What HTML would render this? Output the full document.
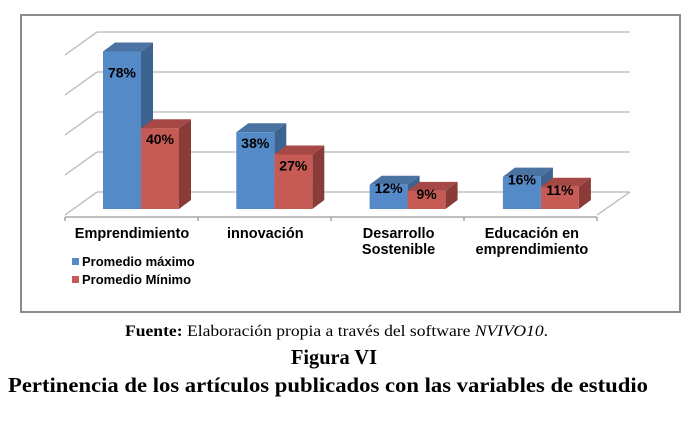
<!DOCTYPE html>
<html><head><meta charset="utf-8"><style>
body{margin:0;background:#fff;width:689px;height:422px;overflow:hidden}
svg{display:block}
.cat{font:bold 13px "Liberation Sans",sans-serif;fill:#000}
.lab{font:bold 14.5px "Liberation Sans",sans-serif;fill:#000}
.val{font:bold 14px "Liberation Sans",sans-serif;fill:#000}
</style></head><body>
<svg id="chart" width="689" height="422" viewBox="0 0 689 422">
<rect x="21" y="15" width="659" height="297" fill="#fff" stroke="#8c8c8c" stroke-width="2"/>
<g id="grid"></g>
<g id="bars"></g>
<g id="axis"></g>
<g>
<rect x="72" y="258" width="7" height="7" fill="#558ac8"/>
<text x="82" y="266" class="cat">Promedio máximo</text>
<rect x="72" y="276" width="7" height="7" fill="#c65b55"/>
<text x="82" y="284" class="cat">Promedio Mínimo</text>
</g>
<text x="125" y="336" textLength="423" lengthAdjust="spacingAndGlyphs" style="font:16px 'Liberation Serif',serif"><tspan font-weight="bold">Fuente:</tspan> Elaboración propia a través del software <tspan font-style="italic">NVIVO10</tspan>.</text>
<text x="291" y="364" textLength="86" lengthAdjust="spacingAndGlyphs" style="font:bold 21px 'Liberation Serif',serif">Figura VI</text>
<text x="8" y="392" textLength="640" lengthAdjust="spacingAndGlyphs" style="font:bold 21px 'Liberation Serif',serif">Pertinencia de los artículos publicados con las variables de estudio</text>
</svg>
<script>
const categories=[["Emprendimiento"],["innovación"],["Desarrollo","Sostenible"],["Educación en","emprendimiento"]];
const maxValues=[78,38,12,16];
const minValues=[40,27,9,11];
const NS="http://www.w3.org/2000/svg";
function mk(t,a,p){const e=document.createElementNS(NS,t);for(const k in a)e.setAttribute(k,a[k]);p.appendChild(e);return e;}
const base=209, pxPer=2.02, dx=12, dy=9, bw=38;
const y=v=>base-v*pxPer;
const xg=i=>103+i*133.3;
const grid=document.getElementById('grid');
for(let k=0;k<5;k++){const gy=192-k*40;
 const l=mk('line',{x1:97,y1:gy,x2:630,y2:gy,stroke:'#b8b8b8','stroke-width':1.3},grid);
 
 
 const d=mk('line',{x1:65,y1:gy+23,x2:97,y2:gy,stroke:'#b8b8b8','stroke-width':1.3},grid);
 
 }
const fl=mk('line',{x1:597,y1:215,x2:630,y2:192,stroke:'#b8b8b8','stroke-width':1.3},grid);


const bars=document.getElementById('bars');
function bar(x,v,front,side,top,name){
 const g=mk('g',{},bars);
 
 
 const t=y(v);
 mk('polygon',{points:`${x+bw},${t} ${x+bw+dx},${t-dy} ${x+bw+dx},${base-dy} ${x+bw},${base}`,fill:side},g);
 mk('polygon',{points:`${x},${t} ${x+dx},${t-dy} ${x+bw+dx},${t-dy} ${x+bw},${t}`,fill:top},g);
 mk('rect',{x:x,y:t,width:bw,height:base-t,fill:front},g);
 const off=v>60?26:(v>20?16:8);
 const tx=mk('text',{x:x+bw/2,y:t+off,'text-anchor':'middle',class:'val'},g);
 tx.textContent=v+'%';
 
 
}
categories.forEach((c,i)=>{
 bar(xg(i),maxValues[i],'#558ac8','#3d6390','#4a72a3','bar-max-'+i);
 bar(xg(i)+bw,minValues[i],'#c65b55','#8a3b37','#a64845','bar-min-'+i);
});
const ax=document.getElementById('axis');
mk('line',{x1:65,y1:217,x2:597,y2:217,stroke:'#999','stroke-width':1.3},ax);
for(let i=0;i<5;i++){const tx=65+i*133;mk('line',{x1:tx,y1:217,x2:tx,y2:221,stroke:'#999','stroke-width':1.3},ax);}
categories.forEach((c,i)=>{
 c.forEach((ln,j)=>{
  const t=mk('text',{x:xg(i)+bw-9,y:238+j*16,'text-anchor':'middle',class:'lab'},ax);
  t.textContent=ln;
  
  
 });
});
</script>
</body></html>
